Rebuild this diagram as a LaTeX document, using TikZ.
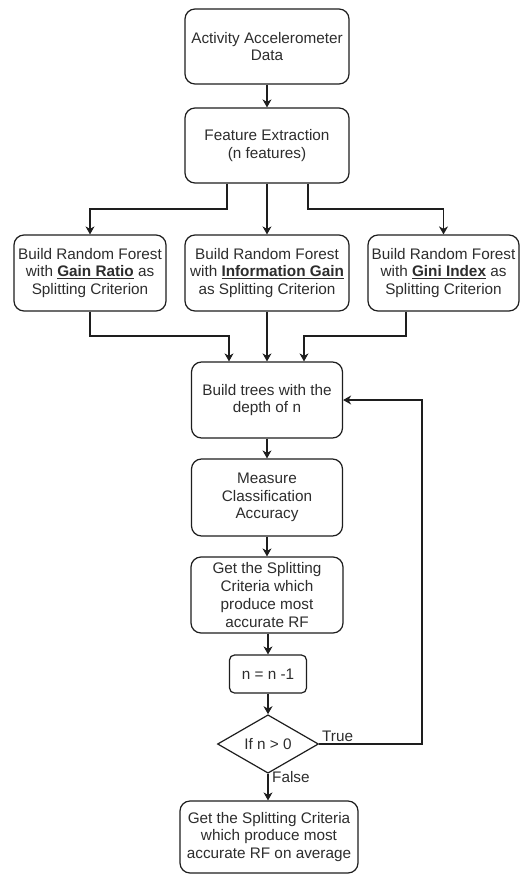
\documentclass[tikz,border=0pt]{standalone}
\usepackage{fontspec}
\setmainfont{Liberation Sans}
\usetikzlibrary{arrows.meta,shapes.geometric,calc}
\definecolor{ink}{RGB}{30,30,30}
\definecolor{txt}{RGB}{45,45,45}
\begin{document}
\begin{tikzpicture}[x=1pt,y=-1pt,
  box/.style={draw=ink,line width=1.2pt,rounded corners=10pt,align=center,inner sep=0pt,
    font=\fontsize{15.3}{17.7}\selectfont,text=txt},
  smallbox/.style={box,rounded corners=5pt},
  dia/.style={draw=ink,line width=1.2pt,diamond,inner sep=0pt,align=center,
    font=\fontsize{15.3}{17.7}\selectfont,text=txt},
  arr/.style={draw=ink,line width=1.2pt,-{Stealth[length=8pt,width=9pt,inset=2.5pt]}},
  lbl/.style={font=\fontsize{15.3}{17.7}\selectfont,text=txt,inner sep=0pt}]
\useasboundingbox[fill=white] (0,0) rectangle (527,875);

\node[box,minimum width=164pt,minimum height=75pt] (A) at (267,46.5) {Activity Accelerometer\\Data};
\node[box,minimum width=164pt,minimum height=75pt] (B) at (267,145.5) {Feature Extraction\\(n features)};
\node[box,minimum width=152pt,minimum height=76pt] (GR) at (90,273) {Build Random Forest\\with \underline{\textbf{Gain Ratio}} as\\Splitting Criterion};
\node[box,minimum width=164pt,minimum height=76pt] (IG) at (267,273) {Build Random Forest\\with \underline{\textbf{Information Gain}}\\as Splitting Criterion};
\node[box,minimum width=151pt,minimum height=76pt] (GI) at (443.5,273) {Build Random Forest\\with \underline{\textbf{Gini Index}} as\\Splitting Criterion};
\node[box,minimum width=151pt,minimum height=76pt] (C) at (267,400) {Build trees with the\\depth of n};
\node[box,minimum width=151pt,minimum height=77pt] (D) at (267,497.5) {Measure\\Classification\\Accuracy};
\node[box,minimum width=152pt,minimum height=76pt] (E) at (267,595) {Get the Splitting\\Criteria which\\produce most\\accurate RF};
\node[smallbox,minimum width=77pt,minimum height=38pt] (F) at (268,674) {n = n -1};
\node[dia,minimum width=101pt,minimum height=50pt] (Q) at (268,744) {If n > 0};
\node[box,minimum width=178pt,minimum height=72pt] (G) at (269,837) {Get the Splitting Criteria\\which produce most\\accurate RF on average};

\coordinate (s1) at (227,209);
\coordinate (s2) at (308,209);
\coordinate (m1) at (229,336);
\coordinate (m2) at (304,336);
\coordinate (lp) at (422,744);

\draw[arr] (A) -- (B);
\draw[arr] (B.south -| s1) -- (s1) -| (GR.north);
\draw[arr] (B) -- (IG);
\draw[arr] (B.south -| s2) -- (s2) -| (GI.north);
\draw[arr] (GR.south) |- (m1) -- (m1 |- C.north);
\draw[arr] (IG) -- (C);
\draw[arr] ([xshift=-37.5pt]GI.south) |- (m2) -- (m2 |- C.north);
\draw[arr] (C) -- (D);
\draw[arr] (D) -- (E);
\draw[arr] (E.south -| F.north) -- (F.north);
\draw[arr] (F) -- (Q);
\draw[arr] (Q.east) -- (lp) |- (C.east);
\draw[arr] (Q.south) -- (Q.south |- G.north);

\node[lbl,anchor=south west] (tl) at (322,742) {True};
\node[lbl,anchor=north west] (fl) at (272,771) {False};
\end{tikzpicture}
\end{document}
